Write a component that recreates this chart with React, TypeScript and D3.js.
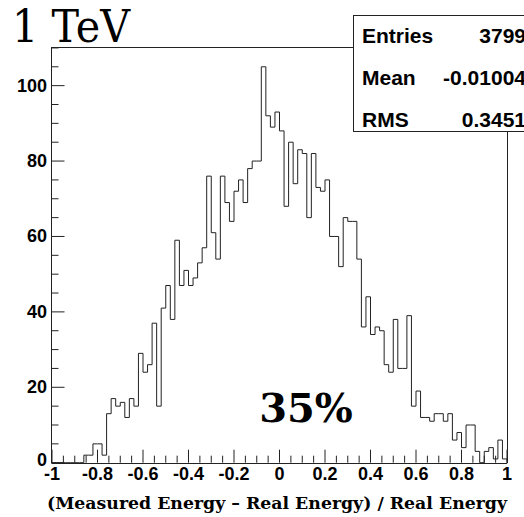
import React from "react";
import * as d3 from "d3";

// 100 bins from -1 to 1 (width 0.02)
const counts: number[] = [
  0, 0, 0, 0, 0, 0, 0, 2, 2, 5,
  5, 2, 13, 17, 15, 16, 12, 17, 15, 29,
  24, 26, 37, 15, 41, 47, 38, 59, 47, 51,
  47, 49, 53, 57, 76, 61, 54, 76, 69, 64,
  72, 75, 69, 78, 80, 80, 105, 92, 89, 93,
  88, 68, 85, 74, 83, 82, 65, 82, 73, 72,
  75, 60, 60, 52, 65, 64, 64, 54, 36, 44,
  34, 36, 35, 26, 24, 38, 25, 25, 39, 15,
  19, 12, 12, 11, 13, 13, 11, 13, 6, 8,
  4, 10, 10, 3, 0, 3, 4, 1, 6, 1,
];
const xMin = -1;
const xMax = 1;
const xMajorTicks: number[] = [-1, -0.8, -0.6, -0.4, -0.2, 0, 0.2, 0.4, 0.6, 0.8, 1];
const xTickLabels: string[] = ["-1", "-0.8", "-0.6", "-0.4", "-0.2", "0", "0.2", "0.4", "0.6", "0.8", "1"];
const yMajorTicks: number[] = [0, 20, 40, 60, 80, 100];
const statNames: string[] = ["Entries", "Mean", "RMS"];
const statValues: string[] = ["3799", "-0.01004", "0.3451"];
const title = "1 TeV";
const xTitle = "(Measured Energy \u2013 Real Energy) / Real Energy";
const annotation = "35%";

export default function App() {
  const W = 524, H = 517;
  const left = 52, right = 507, top = 47, bottom = 462.7;
  const yMax = 1.05 * (d3.max(counts) as number);
  const x = d3.scaleLinear().domain([xMin, xMax]).range([left, right]);
  const y = d3.scaleLinear().domain([0, yMax]).range([bottom, top]);
  const bw = (xMax - xMin) / counts.length;

  let path = `M${x(xMin)},${y(0)}`;
  counts.forEach((c, i) => {
    path += `V${y(c)}H${x(xMin + (i + 1) * bw)}`;
  });
  path += `V${y(0)}`;

  const xMinor = d3.range(0, 41).map((k) => xMin + k * 0.05);
  const yMinor = d3.range(0, 23).map((k) => k * 5).filter((v) => v <= yMax);
  const sans = "'Liberation Sans', Arial, sans-serif";
  const serif = "'DejaVu Serif', serif";
  const boxX = 353.5, boxY = 15.5, boxBottom = 131.5;
  const ink = "#222";

  return (
    <svg width={W} height={H} style={{ position: "absolute", left: 0, top: 0, background: "#fff" }}>
      <rect x={0} y={0} width={W} height={H} fill="#fff" />
      {/* histogram */}
      <path d={path} fill="none" stroke={ink} strokeWidth={1} />
      {/* frame */}
      <line x1={left - 0.5} x2={left - 0.5} y1={top} y2={bottom + 0.5} stroke={ink} />
      <line x1={left - 0.5} x2={right} y1={Math.round(bottom) + 0.5} y2={Math.round(bottom) + 0.5} stroke={ink} />
      <line x1={left - 0.5} x2={boxX} y1={top + 0.5} y2={top + 0.5} stroke={ink} />
      <line x1={right + 0.5} x2={right + 0.5} y1={boxBottom} y2={bottom + 0.5} stroke={ink} />
      {/* x ticks */}
      {xMinor.map((v, i) => {
        const major = i % 4 === 0;
        return (
          <line key={"xt" + i} x1={x(v)} x2={x(v)} y1={bottom} y2={bottom - (major ? 13 : 7)} stroke={ink} />
        );
      })}
      {/* y ticks */}
      {yMinor.map((v, i) => {
        const major = v % 20 === 0;
        return (
          <line key={"yt" + i} x1={left - 0.5} x2={left - 0.5 + (major ? 13 : 7)} y1={y(v)} y2={y(v)} stroke={ink} />
        );
      })}
      {/* x labels */}
      {xMajorTicks.map((v, i) => (
        <text key={"xl" + i} x={x(v)} y={479.5} textAnchor="middle" fontFamily={sans} fontWeight="bold" fontSize={18}>
          {xTickLabels[i]}
        </text>
      ))}
      {/* y labels */}
      {yMajorTicks.map((v) => (
        <text key={"yl" + v} x={47} y={y(v) + (v === 0 ? 3 : 6)} textAnchor="end" fontFamily={sans} fontWeight="bold" fontSize={18}>
          {v}
        </text>
      ))}
      {/* title */}
      <text x={12} y={41.5} fontFamily={serif} fontSize={44} textLength={118} lengthAdjust="spacingAndGlyphs">
        {title}
      </text>
      {/* x axis title */}
      <text x={47} y={508.5} fontFamily={serif} fontWeight="bold" fontSize={16.5} textLength={460} lengthAdjust="spacingAndGlyphs">
        {xTitle}
      </text>
      {/* annotation */}
      <text x={306} y={422} textAnchor="middle" fontFamily={serif} fontWeight="bold" fontSize={40}>
        {annotation}
      </text>
      {/* stats box */}
      <rect x={boxX} y={boxY} width={200} height={boxBottom - boxY} fill="#fff" stroke={ink} />
      {statNames.map((n, i) => (
        <g key={n}>
          <text x={362} y={43 + i * 42} fontFamily={sans} fontWeight="bold" fontSize={21}>
            {n}
          </text>
          <text x={526} y={43 + i * 42} textAnchor="end" fontFamily={sans} fontWeight="bold" fontSize={21}>
            {statValues[i]}
          </text>
        </g>
      ))}
    </svg>
  );
}
